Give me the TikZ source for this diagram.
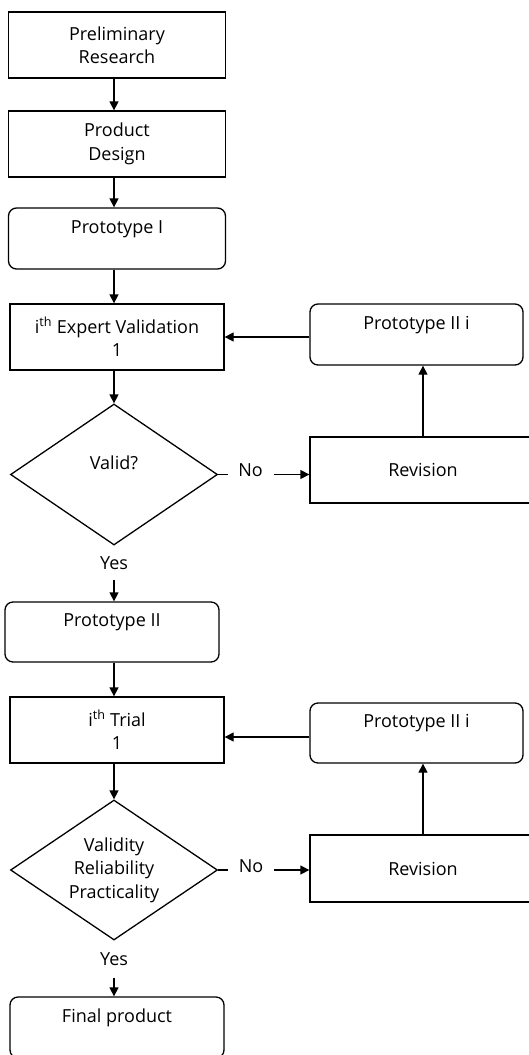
\documentclass[tikz,border=0pt]{standalone}
\usepackage{fontspec}
\setmainfont{Open Sans}
\usetikzlibrary{shapes.geometric,arrows.meta}
\begin{document}
\begin{tikzpicture}[x=1pt,y=-1pt,
  font=\fontsize{18}{23.5}\selectfont,
  line width=1.3pt,
  box/.style={draw, rectangle, inner sep=0pt, align=center},
  rbox/.style={box, rounded corners=8pt},
  dec/.style={draw, diamond, aspect=1.47, inner sep=0pt, align=center},
  lbl/.style={fill=white, inner sep=0pt},
  arr/.style={-{Triangle[length=9pt,width=9pt]}}
]
\useasboundingbox (0,0) rectangle (529,1055);
% main column
\node[box, minimum width=217pt, minimum height=66pt] (b1) at (117,45) {Preliminary\\Research};
\node[box, minimum width=217pt, minimum height=66pt] (b2) at (117,144) {Product\\Design};
\node[rbox, minimum width=217pt, minimum height=61pt] (p1) at (117,238.5) {Prototype I\\\mbox{}};
\node[box, minimum width=214pt, minimum height=66pt] (v1) at (117,337) {i\textsuperscript{th} Expert Validation\\1};
\node[dec, minimum width=207pt, minimum height=141pt] (d1) at (114,474.5) {Valid?\\\mbox{}};
\node[rbox, minimum width=214pt, minimum height=60pt] (p2) at (112,632) {Prototype II\\\mbox{}};
\node[box, minimum width=214pt, minimum height=66pt] (t1) at (117,730) {i\textsuperscript{th} Trial\\1};
\node[dec, minimum width=207pt, minimum height=140pt] (d2) at (114,870) {Validity\\Reliability\\Practicality};
\node[rbox, minimum width=214pt, minimum height=61pt] (fp) at (117,1027.5) {Final product\\\mbox{}};
% right column
\node[rbox, minimum width=213pt, minimum height=61pt] (q1) at (416.5,334.5) {Prototype II i\\\mbox{}};
\node[box, minimum width=226pt, minimum height=66pt] (r1) at (423,470) {Revision};
\node[rbox, minimum width=213pt, minimum height=60pt] (q2) at (416.5,733) {Prototype II i\\\mbox{}};
\node[box, minimum width=226pt, minimum height=67pt] (r2) at (423,868.5) {Revision};
% connectors
\draw[arr] (b1.south -| 114,0) -- (b2.north -| 114,0);
\draw[arr] (b2.south -| 114,0) -- (p1.north -| 114,0);
\draw[arr] (p1.south -| 114,0) -- (v1.north -| 114,0);
\draw[arr] (v1.south -| 114,0) -- (d1.north);
\draw[arr] (d1.south) -- node[lbl, pos=0.32, minimum width=30pt, minimum height=34pt] (y1) {Yes} (p2.north -| 114,0);
\draw[arr] (d1.east) -- node[lbl, pos=0.355, minimum width=46pt, minimum height=30pt, yshift=4pt] (n1) {No} (d1.east -| r1.west);
\draw[arr] (r1.north -| 423,0) -- (q1.south -| 423,0);
\draw[arr] (q1.west |- 0,337) -- (v1.east |- 0,337);
\draw[arr] (p2.south -| 114,0) -- (t1.north -| 114,0);
\draw[arr] (t1.south -| 114,0) -- (d2.north);
\draw[arr] (d2.south) -- node[lbl, pos=0.33, minimum width=30pt, minimum height=37pt] (y2) {Yes} (fp.north -| 114,0);
\draw[arr] (d2.east) -- node[lbl, pos=0.36, minimum width=46pt, minimum height=30pt, yshift=4pt] (n2) {No} (d2.east -| r2.west);
\draw[arr] (r2.north -| 423,0) -- (q2.south -| 423,0);
\draw[arr] (q2.west |- 0,737) -- (t1.east |- 0,737);
\end{tikzpicture}
\end{document}
